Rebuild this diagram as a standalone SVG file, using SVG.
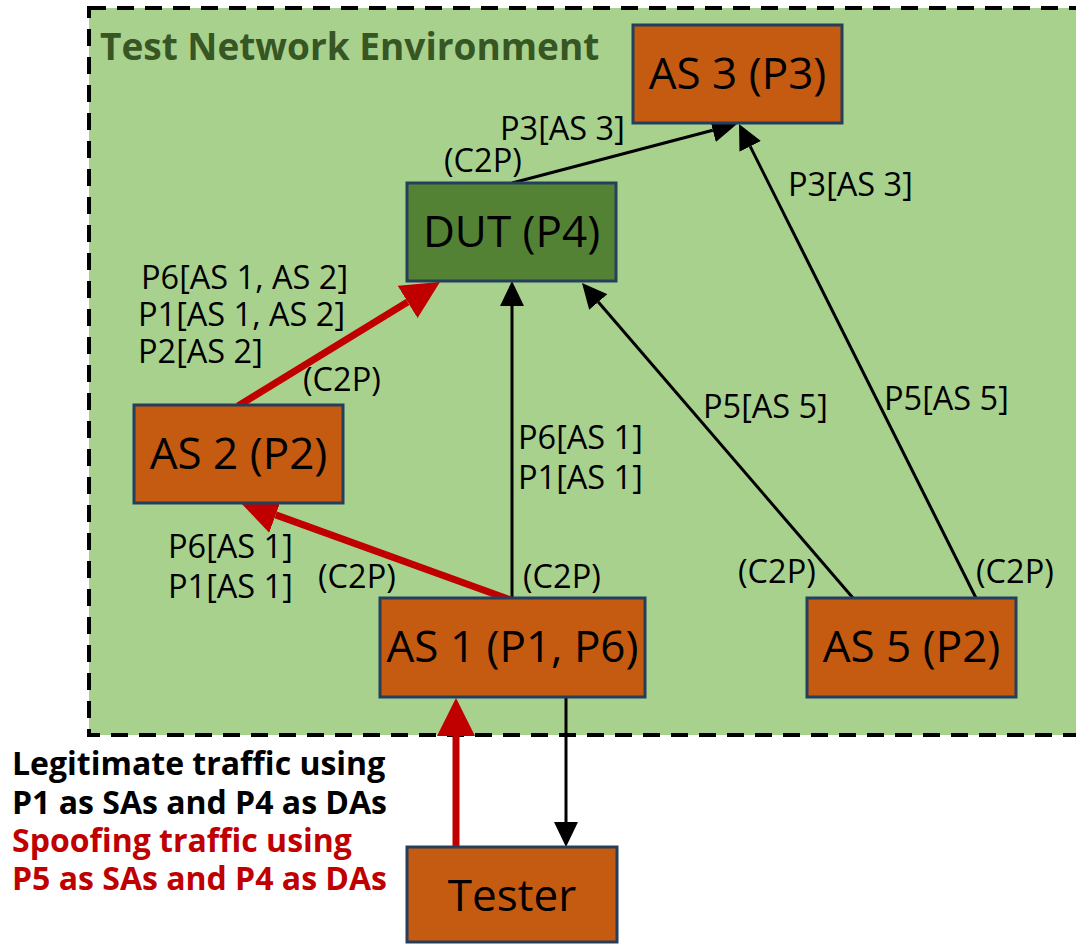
<svg xmlns="http://www.w3.org/2000/svg" width="1076" height="944" viewBox="0 0 1076 944">
<style>
.node{fill:#C55A11;stroke:#243F5C;stroke-width:3}
.dut{fill:#548235;stroke:#243F5C;stroke-width:3}
.nt{font-family:"Open Sans","Noto Sans",sans-serif;font-size:44px;fill:#000;text-anchor:middle}
.lb{font-family:"Open Sans","Noto Sans",sans-serif;font-size:32.5px;fill:#000}
.lg{font-family:"Open Sans","Noto Sans",sans-serif;font-size:32px;font-weight:bold}
.bk{stroke:#000;stroke-width:3;fill:none;marker-end:url(#ab)}
.rd{stroke:#C00000;stroke-width:7;fill:none;marker-end:url(#ar)}
</style>
<defs>
<marker id="ab" markerUnits="userSpaceOnUse" markerWidth="25" markerHeight="24" viewBox="0 0 25 24" refX="0" refY="12" orient="auto"><path d="M0,0 L25,12 L0,24 z" fill="#000"/></marker>
<marker id="ar" markerUnits="userSpaceOnUse" markerWidth="38" markerHeight="38" viewBox="0 0 38 38" refX="0" refY="19" orient="auto"><path d="M0,0 L38,19 L0,38 z" fill="#C00000"/></marker>
</defs>
<rect width="1076" height="944" fill="#fff"/>
<g id="env">
<rect x="89" y="8" width="1000" height="727" fill="#A9D18E" stroke="#000" stroke-width="4" stroke-dasharray="17 11"/>
<text x="100" y="60" font-family="'Open Sans','Noto Sans',sans-serif" font-size="37" font-weight="bold" fill="#375623">Test Network Environment</text>
</g>
<g id="connectors">
<line class="bk" x1="512" y1="183" x2="712.8" y2="130.3"/>
<line class="bk" x1="976" y1="598" x2="750.2" y2="146.4"/>
<line class="bk" x1="853" y1="598" x2="598.3" y2="302"/>
<line class="bk" x1="512" y1="598" x2="512" y2="306"/>
<line class="rd" x1="511" y1="600" x2="275.7" y2="514.9"/>
<line class="rd" x1="238" y1="406" x2="407.6" y2="301.9"/>
<line class="rd" x1="456" y1="847" x2="456" y2="736"/>
<line class="bk" x1="566" y1="697" x2="566" y2="822"/>
</g>
<g id="labels">
<text class="lb" x="500" y="140">P3[AS 3]</text>
<text class="lb" x="444" y="172">(C2P)</text>
<text class="lb" x="788" y="196">P3[AS 3]</text>
<text class="lb" x="141" y="289">P6[AS 1, AS 2]</text>
<text class="lb" x="138" y="326">P1[AS 1, AS 2]</text>
<text class="lb" x="138" y="363">P2[AS 2]</text>
<text class="lb" x="303" y="391">(C2P)</text>
<text class="lb" x="518" y="449">P6[AS 1]</text>
<text class="lb" x="518" y="489">P1[AS 1]</text>
<text class="lb" x="703" y="418">P5[AS 5]</text>
<text class="lb" x="884" y="410">P5[AS 5]</text>
<text class="lb" x="168" y="558">P6[AS 1]</text>
<text class="lb" x="168" y="598">P1[AS 1]</text>
<text class="lb" x="318" y="588">(C2P)</text>
<text class="lb" x="523" y="588">(C2P)</text>
<text class="lb" x="738" y="583">(C2P)</text>
<text class="lb" x="976" y="583">(C2P)</text>
</g>
<g id="as3"><rect class="node" x="633" y="25" width="209" height="98"/><text class="nt" x="737.5" y="89">AS 3 (P3)</text></g>
<g id="dut"><rect class="dut" x="407" y="183" width="209" height="98"/><text class="nt" x="511.5" y="247">DUT (P4)</text></g>
<g id="as2"><rect class="node" x="134" y="405" width="209" height="98"/><text class="nt" x="238.5" y="469">AS 2 (P2)</text></g>
<g id="as1"><rect class="node" x="380" y="598" width="265" height="99"/><text class="nt" x="512.5" y="662">AS 1 (P1, P6)</text></g>
<g id="as5"><rect class="node" x="807" y="598" width="209" height="99"/><text class="nt" x="911.5" y="662">AS 5 (P2)</text></g>
<g id="tester"><rect class="node" x="407" y="847" width="210" height="95"/><text class="nt" x="512" y="911">Tester</text></g>
<g id="legend">
<text class="lg" x="12" y="775" fill="#000">Legitimate traffic using</text>
<text class="lg" x="12" y="814" fill="#000">P1 as SAs and P4 as DAs</text>
<text class="lg" x="12" y="852" fill="#C00000">Spoofing traffic using</text>
<text class="lg" x="12" y="890" fill="#C00000">P5 as SAs and P4 as DAs</text>
</g>
</svg>
